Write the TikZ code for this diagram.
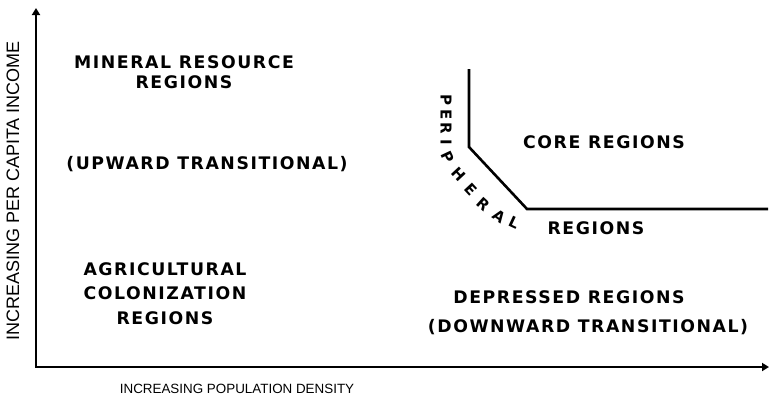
\documentclass[tikz,border=0pt]{standalone}
\usepackage{fontspec}
\usepackage{tikz}
\usetikzlibrary{arrows.meta}
\newfontfamily\regionfont[LetterSpace=9]{DejaVu Sans}
\newfontfamily\axisfont{Liberation Sans}
\begin{document}
\begin{tikzpicture}[x=1pt, y=-1pt,
    region/.style={inner sep=0pt, align=center, font=\regionfont\bfseries\fontsize{17.3}{20}\selectfont},
    axislabel/.style={inner sep=0pt, font=\axisfont\fontsize{13.4}{15}\selectfont},
    letter/.style={inner sep=0pt, font=\regionfont\bfseries\fontsize{15}{20}\selectfont},
    axis/.style={line width=2.6pt, {Triangle[width=8pt,length=7pt]}-{Triangle[width=8pt,length=7pt]}},
    bound/.style={line width=2.6pt, line join=miter}]
    \useasboundingbox (0,0) rectangle (771,399);

    \coordinate (origin) at (36,367);
    \coordinate (ytip) at (36,8);
    \coordinate (xtip) at (769,367);
    \draw[axis] (ytip) -- (origin) -- (xtip);

    \node[axislabel, rotate=90, font=\axisfont\fontsize{18}{20}\selectfont] (ylab) at (13,191) {INCREASING PER CAPITA INCOME};
    \node[axislabel] (xlab) at (237,389) {INCREASING POPULATION DENSITY};

    \node[region, anchor=north] (mineral) at (184,55) {MINERAL RESOURCE\\REGIONS};
    \node[region] (upward) at (207,164) {(UPWARD TRANSITIONAL)};
    \node[region, anchor=north] (agri) at (165,262) {AGRICULTURAL\\[4.5pt]COLONIZATION\\[4.5pt]REGIONS};
    \node[region] (core) at (604,142) {CORE REGIONS};
    \node[region] (periph) at (596,228) {REGIONS};
    \node[region] (depr) at (569,297) {DEPRESSED REGIONS};
    \node[region] (downward) at (588,327) {(DOWNWARD TRANSITIONAL)};

    \coordinate (ctop) at (469,69);
    \coordinate (cbend) at (469,147);
    \coordinate (cknee) at (527,209);
    \coordinate (cend) at (768,209);
    \draw[bound] (ctop) -- (cbend) -- (cknee) -- (cend);

    \foreach \ch/\px/\py/\ang [count=\i] in {P/446/100/-90, E/446/115/-90, R/446/128/-90, I/446/142/-90,
        P/448/157/-65, H/459/174/-47, E/471/190/-47, R/483/204/-42, A/499/216/-35, L/514/223/-25}
      \node[letter, rotate=\ang] (p\i) at (\px,\py) {\ch};
\end{tikzpicture}
\end{document}
